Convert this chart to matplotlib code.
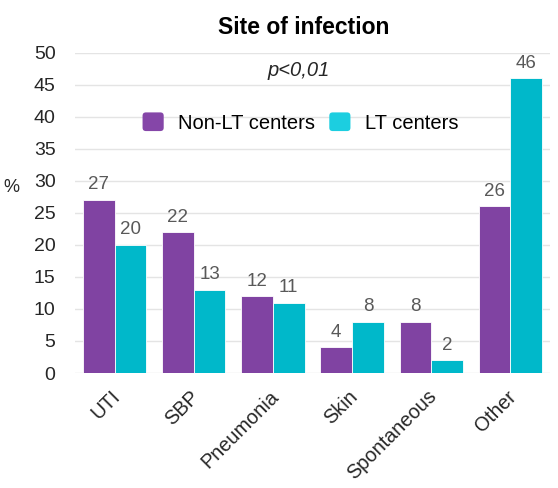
import matplotlib
matplotlib.use("Agg")
import matplotlib.pyplot as plt
import matplotlib.transforms as mtransforms
from matplotlib.patches import FancyBboxPatch, Patch
from matplotlib.legend_handler import HandlerPatch
import numpy as np

plt.rcParams['font.family'] = ['Liberation Sans', 'DejaVu Sans']

categories = ["UTI", "SBP", "Pneumonia", "Skin", "Spontaneous", "Other"]
non_lt = [27, 22, 12, 4, 8, 26]
lt = [20, 13, 11, 8, 2, 46]
series_names = ["Non-LT centers", "LT centers"]
yticks = [0, 5, 10, 15, 20, 25, 30, 35, 40, 45, 50]

purple = "#8043A2"
teal = "#00B8CA"
purple_leg = "#8546A8"
teal_leg = "#1CCEE0"

fig = plt.figure(figsize=(5.58, 4.88), dpi=100)
ax = fig.add_axes([75/558, 115/488, 475/558, 320.3/488])

x = np.arange(len(categories))
w = 0.4
b1 = ax.bar(x - w/2, non_lt, w, color=purple, edgecolor="white", linewidth=0.6, zorder=3)
b2 = ax.bar(x + w/2, lt, w, color=teal, edgecolor="white", linewidth=0.6, zorder=3)

for rects, vals in ((b1, non_lt), (b2, lt)):
    for r, v in zip(rects, vals):
        ax.text(r.get_x() + r.get_width()/2, v + 2.35, str(v), ha="center", va="center",
                fontsize=13.5, color="#595959")

ax.set_xlim(-0.5, len(categories) - 0.5)
ax.set_ylim(0, 50)
ax.set_yticks(yticks)
ax.set_yticklabels([str(t) for t in yticks], fontsize=14, color="#262626")
ax.set_xticks(x)
ax.set_xticklabels(categories, rotation=45, ha="right", rotation_mode="anchor", fontsize=14.3, color="#262626")
ax.tick_params(axis="both", length=0)
ax.tick_params(axis="y", pad=14)
ax.tick_params(axis="x", pad=10)
off = mtransforms.ScaledTranslation(-4/100, 0, fig.dpi_scale_trans)
for lab in ax.get_xticklabels():
    lab.set_transform(lab.get_transform() + off)
for s in ax.spines.values():
    s.set_visible(False)
ax.yaxis.grid(True, color="#e4e4e4", linewidth=1, zorder=0)
ax.set_axisbelow(True)

fig.text(3/558, 1 - 188/488, "%", fontsize=13, color="#262626", ha="left", va="center")
fig.text(304/558, 1 - 27/488, "Site of infection", fontsize=16.5, fontweight="bold", ha="center", va="center")
fig.text(298.5/558, 1 - 71/488, "p<0,01", fontstyle="italic", fontsize=14.5, ha="center", va="center", color="#262626")


class RoundHandler(HandlerPatch):
    def create_artists(self, legend, orig_handle, xdescent, ydescent, width, height, fontsize, trans):
        p = FancyBboxPatch((-xdescent, -ydescent), width, height,
                           boxstyle="round,pad=0,rounding_size=%f" % (height * 0.18),
                           facecolor=orig_handle.get_facecolor(), edgecolor="none", transform=trans)
        return [p]


handles = [Patch(facecolor=purple_leg), Patch(facecolor=teal_leg)]
leg = fig.legend(handles, series_names, loc="center", bbox_to_anchor=(300.5/558, 1 - 122.5/488), ncol=2,
                 frameon=False, fontsize=14.5, handlelength=1.05, handleheight=1.05,
                 handletextpad=0.72, columnspacing=0.7, borderpad=0,
                 handler_map={Patch: RoundHandler()})

fig.savefig("out.png", dpi=100)
